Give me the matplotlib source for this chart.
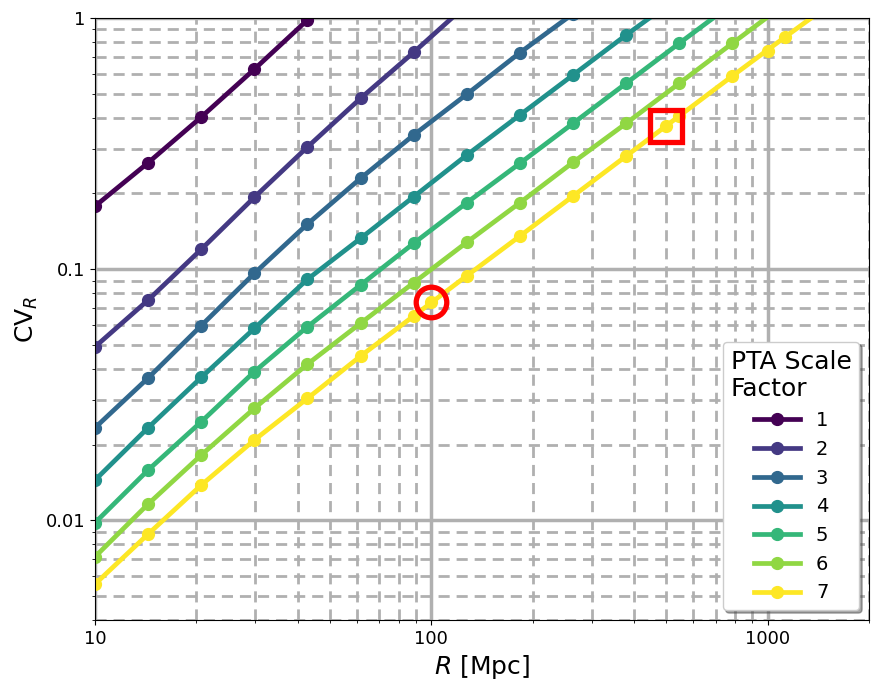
import numpy as np
import matplotlib
matplotlib.use('Agg')
import matplotlib.pyplot as plt
from matplotlib.ticker import FuncFormatter, NullFormatter

# distances [Mpc]
R = [10, 14.38, 20.69, 29.76, 42.81, 61.58, 88.59, 127.4, 183.3,
     263.7, 379.3, 545.6, 784.8, 1128.8, 1623.8]

scale_factors = [1, 2, 3, 4, 5, 6, 7]

cv_1 = [0.178, 0.265, 0.403, 0.625, 0.982, 1.55]
cv_2 = [0.0490, 0.0752, 0.1198, 0.1931, 0.3062, 0.4786, 0.730, 1.13]
cv_3 = [0.02332, 0.0368, 0.0595, 0.0961, 0.1511, 0.2298, 0.3419, 0.4966,
        0.7274, 1.04]
cv_4 = [0.01443, 0.02332, 0.0370, 0.0580, 0.0910, 0.1325, 0.1941, 0.2845,
        0.4108, 0.5928, 0.8556, 1.22]
cv_5 = [0.00976, 0.01582, 0.02463, 0.0390, 0.0589, 0.0864, 0.1266, 0.1837,
        0.2637, 0.3805, 0.5494, 0.7929, 1.14]
cv_6 = [0.00714, 0.01158, 0.01815, 0.02786, 0.0418, 0.0608, 0.0882, 0.1278,
        0.1837, 0.2661, 0.3805, 0.5494, 0.7929, 1.14]
cv_7 = [0.00556, 0.00879, 0.01378, 0.02084, 0.03053, 0.0450, 0.0650, 0.0940,
        0.1353, 0.1953, 0.2819, 0.4070, 0.5874, 0.842, 1.2]
cvs = [cv_1, cv_2, cv_3, cv_4, cv_5, cv_6, cv_7]

# highlighted distances on the scale-factor-7 curve
R_hl = [100, 500, 1000]
cv_hl = [0.0741, 0.372, 0.741]

colors = plt.cm.viridis(np.linspace(0, 1, len(scale_factors)))

fig = plt.figure(figsize=(8.79, 6.93), dpi=100)
ax = fig.add_axes([95 / 879, 1 - 620 / 693, 774 / 879, 602 / 693])

for sf, cv, c in zip(scale_factors, cvs, colors):
    ax.plot(R[:len(cv)], cv, '-o', color=c, lw=3.4, ms=8.5, label=str(sf))

ax.plot(R_hl, cv_hl, 'o', color=colors[-1], ms=8.5, zorder=3)
ax.plot(R_hl[0], cv_hl[0], 'o', mfc='none', mec='red', ms=22, mew=3.8, zorder=4)
ax.plot(R_hl[1], cv_hl[1], 's', mfc='none', mec='red', ms=23, mew=3.8, zorder=4)

ax.set_xscale('log')
ax.set_yscale('log')
ax.set_xlim(10, 2000)
ax.set_ylim(0.004, 1)

ax.grid(which='major', color='#b0b0b0', lw=2.5, ls='-')
ax.grid(which='minor', color='#b0b0b0', lw=2, ls=(0, (4, 2.5)))
ax.set_axisbelow(True)

fmt = FuncFormatter(lambda v, _: '{:g}'.format(v))
ax.xaxis.set_major_formatter(fmt)
ax.yaxis.set_major_formatter(fmt)
ax.xaxis.set_minor_formatter(NullFormatter())
ax.yaxis.set_minor_formatter(NullFormatter())
ax.tick_params(labelsize=13)

ax.set_xlabel(r'$R$ [Mpc]', fontsize=18)
ax.set_ylabel(r'CV$_R$', fontsize=18)

leg = ax.legend(title='PTA Scale\nFactor', loc='lower right', fontsize=14,
                title_fontsize=18, shadow=True, handlelength=2.4,
                framealpha=1)
leg.get_title().set_multialignment('left')

fig.savefig('out.png', dpi=100)
